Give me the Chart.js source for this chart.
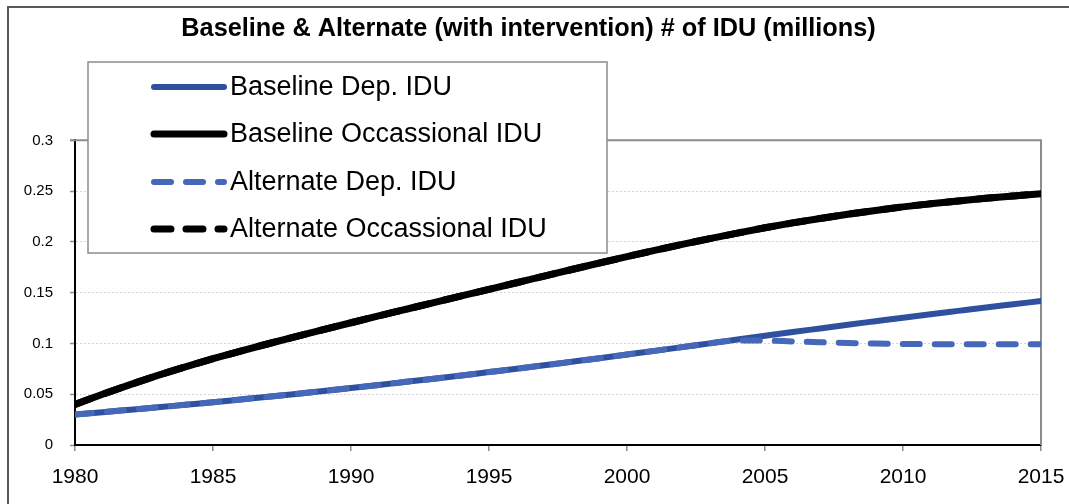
<!DOCTYPE html>
<html>
<head>
<meta charset="utf-8">
<script src="https://cdn.jsdelivr.net/npm/chart.js@4/dist/chart.umd.min.js"></script>
<style>
  html, body { margin: 0; padding: 0; background: #fff; }
  #wrap { width: 1069px; height: 504px; position: relative; }
</style>
</head>
<body>
<div id="wrap"><canvas id="c" width="1069" height="504"></canvas></div>
<script>
const TITLE = 'Baseline & Alternate (with intervention) # of IDU (millions)';
const years = [1980,1981,1982,1983,1984,1985,1986,1987,1988,1989,1990,1991,1992,1993,1994,1995,1996,1997,
               1998,1999,2000,2001,2002,2003,2004,2005,2006,2007,2008,2009,2010,2011,2012,2013,2014,2015];
const seriesNames = ['Baseline Dep. IDU', 'Baseline Occassional IDU', 'Alternate Dep. IDU', 'Alternate Occassional IDU'];
const baselineDep = [0.0300,0.0323,0.0347,0.0371,0.0396,0.0421,0.0448,0.0475,0.0503,0.0532,0.0561,0.0591,0.0622,0.0653,0.0685,0.0718,
                     0.0751,0.0785,0.0820,0.0855,0.0891,0.0927,0.0964,0.1001,0.1038,0.1075,0.1112,0.1148,0.1184,0.1219,0.1254,
                     0.1288,0.1321,0.1354,0.1386,0.1418];
const baselineOcc = [0.0400,0.0500,0.0595,0.0685,0.0770,0.0850,0.0925,0.0997,0.1067,0.1136,0.1204,0.1271,0.1337,0.1403,0.1468,0.1533,
                     0.1598,0.1663,0.1728,0.1792,0.1855,0.1916,0.1975,0.2032,0.2087,0.2139,0.2187,0.2231,0.2272,0.2310,0.2345,
                     0.2375,0.2403,0.2429,0.2453,0.2475];
const alternateDep = [0.0300,0.0323,0.0347,0.0371,0.0396,0.0421,0.0448,0.0475,0.0503,0.0532,0.0561,0.0591,0.0622,0.0653,0.0685,0.0718,
                      0.0751,0.0785,0.0820,0.0855,0.0891,0.0927,0.0964,0.1001,0.1030,0.1028,0.1020,0.1012,0.1005,0.0999,0.0995,
                      0.0993,0.0992,0.0992,0.0992,0.0992];
const alternateOcc = [0.0400,0.0500,0.0595,0.0685,0.0770,0.0850,0.0925,0.0997,0.1067,0.1136,0.1204,0.1271,0.1337,0.1403,0.1468,0.1533,
                      0.1598,0.1663,0.1728,0.1792,0.1855,0.1916,0.1975,0.2032,0.2087,0.2139,0.2187,0.2231,0.2272,0.2310,0.2345,
                      0.2375,0.2403,0.2429,0.2453,0.2475];
const yTicks = [0, 0.05, 0.1, 0.15, 0.2, 0.25, 0.3];
const xTicks = [1980, 1985, 1990, 1995, 2000, 2005, 2010, 2015];

const FONT = "'Liberation Sans', Arial, sans-serif";
const DARK_BLUE = '#2F4F9F';
const LIGHT_BLUE = '#4668B8';

const framePlugin = {
  id: 'frames',
  beforeDraw(chart) {
    const ctx = chart.ctx;
    ctx.save();
    ctx.strokeStyle = '#5a5a5a';
    ctx.lineWidth = 2;
    ctx.beginPath();
    ctx.moveTo(8, 504);
    ctx.lineTo(8, 7);
    ctx.lineTo(1069, 7);
    ctx.stroke();
    ctx.restore();
  },
  beforeDatasetsDraw(chart) {
    const {ctx, chartArea: a} = chart;
    ctx.save();
    ctx.strokeStyle = '#8c8c8c';
    ctx.lineWidth = 2;
    ctx.beginPath();
    ctx.moveTo(a.left - 5, a.top);
    ctx.lineTo(a.right, a.top);
    ctx.lineTo(a.right, a.bottom);
    ctx.stroke();
    ctx.restore();
  }
};

const legendPlugin = {
  id: 'boxLegend',
  afterDatasetsDraw(chart) {
    const ctx = chart.ctx;
    const bx = 88, by = 62, bw = 519, bh = 191;
    ctx.save();
    ctx.fillStyle = '#fff';
    ctx.fillRect(bx, by, bw, bh);
    ctx.strokeStyle = '#8c8c8c';
    ctx.lineWidth = 1.5;
    ctx.strokeRect(bx, by, bw, bh);
    const rows = [87, 134, 182, 229];
    chart.data.datasets.forEach((ds, i) => {
      const y = rows[i];
      ctx.beginPath();
      ctx.strokeStyle = ds.borderColor;
      ctx.lineWidth = ds.borderWidth;
      ctx.lineCap = 'round';
      ctx.setLineDash(ds.borderDash || []);
      ctx.moveTo(154, y);
      ctx.lineTo(224, y);
      ctx.stroke();
      ctx.setLineDash([]);
      ctx.fillStyle = '#000';
      ctx.font = '27px ' + FONT;
      ctx.textBaseline = 'middle';
      ctx.textAlign = 'left';
      ctx.fillText(ds.label, 230, y + 1);
    });
    ctx.restore();
  }
};

new Chart(document.getElementById('c'), {
  type: 'line',
  data: {
    labels: years,
    datasets: [
      { label: seriesNames[0], data: baselineDep, borderColor: DARK_BLUE, borderWidth: 6, order: 1 },
      { label: seriesNames[1], data: baselineOcc, borderColor: '#000000', borderWidth: 7, order: 1 },
      { label: seriesNames[2], data: alternateDep, borderColor: LIGHT_BLUE, borderWidth: 6, borderDash: [17, 15], order: 0 },
      { label: seriesNames[3], data: alternateOcc, borderColor: '#000000', borderWidth: 7, borderDash: [17, 15], order: 0 }
    ]
  },
  options: {
    responsive: false,
    animation: false,
    events: [],
    layout: { padding: { left: 0, right: 12, top: 0, bottom: 0 } },
    elements: {
      point: { radius: 0 },
      line: { cubicInterpolationMode: 'monotone', borderCapStyle: 'round', borderJoinStyle: 'round', fill: false }
    },
    plugins: {
      legend: { display: false },
      tooltip: { enabled: false },
      title: {
        display: true,
        text: TITLE,
        color: '#000',
        font: { family: FONT, size: 25.3, weight: 'bold', lineHeight: 1.2 },
        padding: { top: 14, bottom: 96 }
      }
    },
    scales: {
      x: {
        type: 'linear',
        min: 1980, max: 2015,
        afterBuildTicks: s => { s.ticks = xTicks.map(v => ({ value: v })); },
        afterFit: s => { s.height = 59; s.paddingLeft = 0; s.paddingRight = 0; },
        ticks: {
          color: '#000',
          font: { family: FONT, size: 21 },
          padding: 14,
          maxRotation: 0,
          autoSkip: false,
          callback: v => String(v)
        },
        grid: { drawOnChartArea: false, drawTicks: true, tickLength: 6, tickColor: '#8c8c8c', lineWidth: 1.5 },
        border: { display: true, color: '#000', width: 2 }
      },
      y: {
        min: 0, max: 0.3,
        afterBuildTicks: s => { s.ticks = yTicks.map(v => ({ value: v })); },
        afterFit: s => { s.width = 75; s.paddingTop = 0; s.paddingBottom = 0; },
        ticks: {
          color: '#000',
          font: { family: FONT, size: 15 },
          padding: 17,
          callback: v => String(+v.toFixed(2))
        },
        grid: { color: '#d6d6d6', lineWidth: 1, drawTicks: true, tickLength: 5, tickColor: '#8c8c8c', tickWidth: 1.5 },
        border: { display: true, color: '#000', width: 2, dash: [2, 2] }
      },
      y2: {
        position: 'right',
        display: true,
        afterFit: s => { s.width = 16; s.paddingTop = 0; s.paddingBottom = 0; },
        grid: { display: false, drawTicks: false },
        border: { display: false },
        ticks: { display: false }
      }
    }
  },
  plugins: [framePlugin, legendPlugin]
});
</script>
</body>
</html>
